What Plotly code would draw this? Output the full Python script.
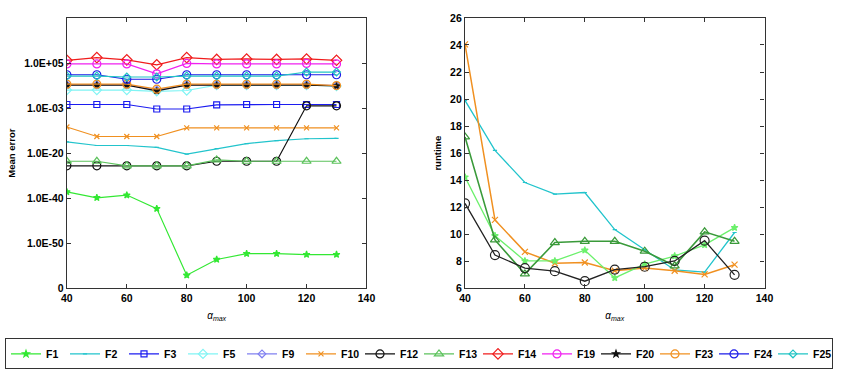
import plotly.graph_objects as go

alpha = [40, 50, 60, 70, 80, 90, 100, 110, 120, 130]

# Left plot: mean error, positions on the (non-uniform) labelled error scale
err_tick_vals = [0, 1, 2, 3, 4, 5]
err_tick_text = ["0", "1.0E-50", "1.0E-40", "1.0E-20", "1.0E-03", "1.0E+05"]

err_F1 = [2.14, 2.01, 2.07, 1.77, 0.29, 0.64, 0.77, 0.77, 0.75, 0.75]
err_F2 = [3.25, 3.17, 3.17, 3.13, 2.98, 3.10, 3.21, 3.28, 3.32, 3.33]
err_F3 = [4.08, 4.08, 4.08, 3.98, 3.98, 4.07, 4.08, 4.08, 4.08, 4.08]
err_F5 = [4.40, 4.40, 4.40, 4.37, 4.39, 4.51, 4.51, 4.51, 4.51, 4.49]
err_F9 = [4.52, 4.52, 4.52, 4.40, 4.52, 4.52, 4.52, 4.52, 4.52, 4.50]
err_F10 = [3.58, 3.37, 3.37, 3.37, 3.56, 3.56, 3.56, 3.56, 3.56, 3.56]
err_F12 = [2.72, 2.72, 2.72, 2.72, 2.72, 2.82, 2.82, 2.82, 4.05, 4.05]
err_F13 = [2.82, 2.82, 2.72, 2.72, 2.72, 2.85, 2.82, 2.82, 2.82, 2.82]
err_F14 = [5.06, 5.12, 5.07, 4.96, 5.12, 5.08, 5.09, 5.08, 5.09, 5.06]
err_F19 = [4.98, 4.98, 4.98, 4.76, 4.99, 4.98, 4.98, 4.98, 4.99, 4.98]
err_F20 = [4.51, 4.51, 4.51, 4.38, 4.51, 4.51, 4.51, 4.51, 4.51, 4.49]
err_F23 = [4.53, 4.53, 4.53, 4.42, 4.53, 4.53, 4.53, 4.53, 4.53, 4.50]
err_F24 = [4.74, 4.74, 4.64, 4.64, 4.74, 4.74, 4.74, 4.74, 4.74, 4.74]
err_F25 = [4.71, 4.71, 4.69, 4.69, 4.71, 4.71, 4.71, 4.71, 4.80, 4.80]

# Right plot: runtime
rt_F1 = [14.23, 9.89, 8.03, 8.03, 8.82, 6.77, 7.79, 8.39, 9.22, 10.49]
rt_F2 = [19.9, 16.2, 13.83, 12.97, 13.09, 10.35, 8.86, 7.36, 7.2, 10.13]
rt_F10 = [24.05, 11.06, 8.7, 7.86, 7.91, 7.3, 7.5, 7.3, 7.03, 7.75]
rt_F12 = [12.28, 8.46, 7.5, 7.27, 6.53, 7.39, 7.6, 8.03, 9.53, 7.0]
rt_F13 = [17.2, 9.58, 7.07, 9.39, 9.48, 9.48, 8.75, 7.67, 10.18, 9.48]

series = [
    ("F1", err_F1, "#33e833", "star", 5),
    ("F2", err_F2, "#22c4cc", "line-ew", 3),
    ("F3", err_F3, "#1c1cf0", "square-open", 6),
    ("F5", err_F5, "#80f4f4", "diamond-open", 7),
    ("F9", err_F9, "#8080f0", "diamond-open", 6),
    ("F10", err_F10, "#f09020", "x-thin-open", 5),
    ("F12", err_F12, "#111111", "circle-open", 8),
    ("F13", err_F13, "#5cc25c", "triangle-up-open", 8),
    ("F14", err_F14, "#f01c1c", "diamond-open", 8),
    ("F19", err_F19, "#f020f0", "circle-open", 8),
    ("F20", err_F20, "#111111", "star", 5),
    ("F23", err_F23, "#f09020", "circle-open", 8),
    ("F24", err_F24, "#1c1ce8", "circle-open", 8),
    ("F25", err_F25, "#20c4c4", "diamond-open", 6),
]

fig = go.Figure()
for name, ys, col, sym, sz in series:
    fig.add_trace(go.Scatter(
        x=alpha, y=ys, name=name, mode="lines+markers",
        line=dict(color=col, width=1.2),
        marker=dict(symbol=sym, size=sz, color=col, line=dict(color=col, width=1.2)),
        xaxis="x", yaxis="y",
    ))

rt_series = [
    ("F2", rt_F2, "#22c4cc", "line-ew", 3, 1.3),
    ("F10", rt_F10, "#f09020", "x-thin-open", 6, 1.5),
    ("F1", rt_F1, "#6cf06c", "star", 5, 1.3),
    ("F13", rt_F13, "#3a9a3a", "triangle-up-open", 8, 1.6),
    ("F12", rt_F12, "#222222", "circle-open", 9, 1.3),
]
for name, ys, col, sym, sz, w in rt_series:
    fig.add_trace(go.Scatter(
        x=alpha, y=ys, name=name, mode="lines+markers", showlegend=False,
        line=dict(color=col, width=w),
        marker=dict(symbol=sym, size=sz, color=col, line=dict(color=col, width=1.2)),
        xaxis="x2", yaxis="y2",
    ))

tickfont = dict(family="Liberation Sans, Arial", size=10.5, color="black", weight="bold")
axis_common = dict(
    showline=True, linecolor="#333333", linewidth=1.2, mirror="allticks",
    ticks="inside", ticklen=4, tickcolor="#333333", showgrid=False, zeroline=False,
    tickfont=tickfont,
)
xtitle = dict(text="<i>α</i><sub><i>max</i></sub>",
              font=dict(family="Liberation Sans, Arial", size=10, color="black"),
              standoff=8)

fig.update_layout(
    width=841, height=374,
    margin=dict(l=0, r=0, t=0, b=0),
    paper_bgcolor="white", plot_bgcolor="white",
    xaxis=dict(domain=[0.0737, 0.4364], range=[40, 140], tickvals=[40, 60, 80, 100, 120, 140],
               anchor="y", title=xtitle, **axis_common),
    yaxis=dict(domain=[0.22, 0.967], range=[0, 6], tickvals=err_tick_vals + [6],
               ticktext=err_tick_text + [""], anchor="x",
               title=dict(text="Mean error", font=dict(family="Liberation Sans, Arial", size=9.5,
                                                        color="black", weight="bold"), standoff=6),
               **axis_common),
    xaxis2=dict(domain=[0.5557, 0.9183], range=[40, 140], tickvals=[40, 60, 80, 100, 120, 140],
                anchor="y2", title=xtitle, **axis_common),
    yaxis2=dict(domain=[0.22, 0.967], range=[6, 26], dtick=2, anchor="x2",
                title=dict(text="runtime", font=dict(family="Liberation Sans, Arial", size=9.5,
                                                      color="black", weight="bold"), standoff=6),
                **axis_common),
    legend=dict(orientation="h", x=0.5, xanchor="center", y=0.039, yanchor="middle",
                bordercolor="#333333", borderwidth=1, bgcolor="white",
                font=dict(family="Liberation Sans, Arial", size=10.5, color="black", weight="bold"),
                itemwidth=30, tracegroupgap=0, entrywidth=14, entrywidthmode="pixels"),
    showlegend=True,
)

fig.write_html("out.html")
